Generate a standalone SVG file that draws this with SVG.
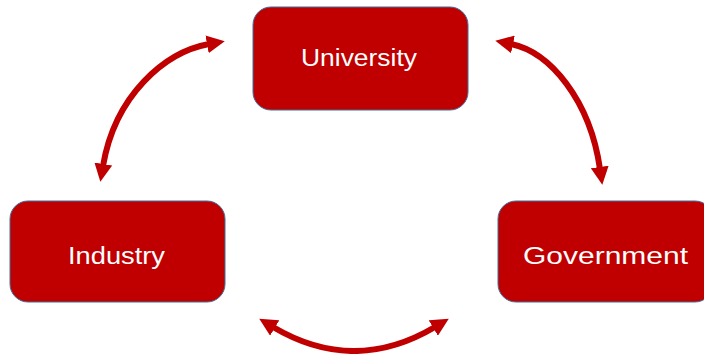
<svg xmlns="http://www.w3.org/2000/svg" width="704" height="354" viewBox="0 0 704 354">
<style>
.box{fill:#C00000;stroke:#41719C;stroke-width:1}
.lbl{fill:#FFFFFF;font-family:"Liberation Sans","Open Sans",Arial,sans-serif;font-size:23px;text-anchor:middle}
.con{fill:none;stroke:#C00000;stroke-width:6}
</style>
<defs>
<marker id="ah" viewBox="0 0 18 18" markerUnits="userSpaceOnUse" markerWidth="18" markerHeight="18" refX="2" refY="9" orient="auto-start-reverse">
<path d="M0,0 L18,9 L0,18 z" fill="#C00000"/>
</marker>
</defs>
<rect width="704" height="354" fill="#FFFFFF"/>
<g id="connectors">
<path class="con" d="M 103,166 C 115,95 165,52 209,44" marker-start="url(#ah)" marker-end="url(#ah)"/>
<path class="con" d="M 511,44 C 550,52 590,100 600,169" marker-start="url(#ah)" marker-end="url(#ah)"/>
<path class="con" d="M 273,327 Q 354,375 435,327" marker-start="url(#ah)" marker-end="url(#ah)"/>
</g>
<g id="university">
<rect class="box" x="253" y="7" width="215" height="103" rx="18"/>
<text class="lbl" x="359" y="66" textLength="116" lengthAdjust="spacingAndGlyphs">University</text>
</g>
<g id="industry">
<rect class="box" x="10" y="201" width="215" height="101" rx="18"/>
<text class="lbl" x="116.5" y="264" textLength="97" lengthAdjust="spacingAndGlyphs">Industry</text>
</g>
<g id="government">
<rect class="box" x="498" y="201" width="215" height="101" rx="18"/>
<text class="lbl" x="605.5" y="264" textLength="165" lengthAdjust="spacingAndGlyphs">Government</text>
</g>
</svg>
